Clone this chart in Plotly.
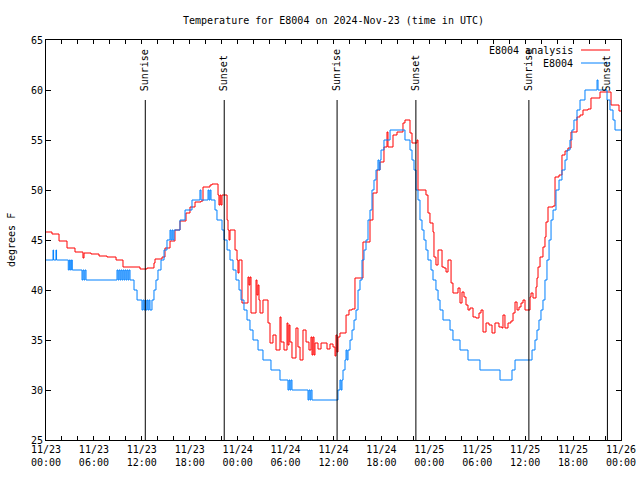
import pandas as pd
import plotly.graph_objects as go

# ---------------- data ----------------
START = "2024-11-23 00:00"
END = "2024-11-26 00:00"

# E8004 observations: hours since 11/23 00:00 UTC, degrees F
obs_hours = [0.00, 0.88, 0.95, 1.25, 1.32, 2.79, 2.92, 3.04, 3.17, 3.29,
             4.51, 4.63, 4.76, 4.88, 5.01, 5.13,
             8.89, 9.02, 9.14, 9.27, 9.39, 9.52, 9.64, 9.77, 9.89, 10.02, 10.14, 10.27, 10.39, 10.52,
             11.02, 11.40, 12.02, 12.15, 12.27, 12.40, 12.52, 12.65, 12.77, 12.90, 13.02,
             13.27, 13.52, 13.77, 14.02, 14.40, 14.78, 15.15, 15.53, 15.65, 15.78, 15.90, 16.03,
             16.78, 17.41, 18.28, 19.28, 19.41, 20.29, 20.41, 20.54, 20.66, 21.16, 21.41, 22.04,
             22.29, 22.67, 23.04, 23.42, 23.79, 24.17, 24.42, 24.79, 25.17, 25.54, 25.92, 26.55,
             27.17, 28.17, 29.30, 30.30, 30.43, 30.55, 30.68, 30.80, 32.81, 32.93, 33.06, 33.18,
             33.31, 36.56, 36.81, 36.94, 37.06, 37.19, 37.44, 37.57, 37.69, 37.82, 38.07, 38.32,
             38.57, 38.82, 39.07, 39.32, 39.57, 39.82, 40.07, 40.32, 40.57, 40.82, 41.07, 41.32,
             41.57, 41.70, 41.83, 41.95, 42.32, 43.08, 44.95, 45.58, 45.83, 46.08, 46.33, 46.58,
             46.83, 47.08, 47.33, 47.58, 47.83, 48.21, 48.46, 48.83, 49.09, 49.34, 49.71, 50.59,
             50.96, 51.84, 52.84, 54.34, 56.85, 58.35, 58.73, 60.86, 61.23, 61.48, 61.73, 61.98,
             62.23, 62.48, 62.73, 62.99, 63.24, 63.49, 63.86, 64.24, 64.61, 64.99, 65.24, 65.61,
             65.86, 66.11, 66.49, 66.87, 67.49, 69.00, 69.12, 70.25, 70.62, 71.00, 71.25, 72.00]
obs_temp = [43, 44, 43, 44, 43, 42, 43, 42, 43, 42,
            41, 42, 41, 42, 41, 41,
            42, 41, 42, 41, 42, 41, 42, 41, 42, 41, 42, 41, 42, 41,
            40, 39, 38, 39, 38, 39, 38, 39, 38, 39, 38,
            39, 40, 41, 42, 43, 44, 45, 46, 45, 46, 45, 46,
            47, 48, 49, 50, 49, 50, 49, 50, 49, 48, 47, 46,
            45, 44, 43, 42, 41, 40, 39, 38, 37, 36, 35, 34,
            33, 32, 31, 30, 31, 30, 31, 30, 29, 30, 29, 30,
            29, 30, 31, 30, 31, 32, 33, 34, 33, 34, 35, 36,
            37, 38, 40, 41, 43, 44, 45, 47, 48, 50, 51, 52,
            53, 52, 53, 54, 55, 56, 55, 54, 53, 52, 50, 49,
            47, 46, 45, 44, 43, 42, 41, 40, 39, 38, 37, 36,
            35, 34, 33, 32, 31, 32, 33, 34, 35, 36, 37, 38,
            39, 41, 43, 45, 47, 48, 50, 51, 52, 53, 54, 55,
            56, 57, 58, 59, 60, 61, 60, 59, 58, 57, 56, 56]

# E8004 analysis: hours since 11/23 00:00 UTC, degrees F
ana_hours = [0.00, 0.75, 1.63, 2.63, 3.63, 4.63, 4.76, 5.64, 6.64, 7.64, 8.77, 9.64, 11.77, 12.65,
             13.52, 13.65, 14.53, 14.90, 15.53, 16.15, 16.78, 17.53, 18.03, 18.66, 19.41, 19.66,
             20.54, 20.79, 21.54, 21.66, 21.79, 21.91, 22.04, 22.67, 22.79, 22.92, 23.04, 23.67,
             23.92, 24.04, 24.17, 24.54, 25.29, 25.42, 25.54, 25.67, 26.30, 26.42, 26.55, 26.67,
             26.80, 27.17, 27.80, 28.05, 28.42, 28.80, 29.30, 29.43, 29.80, 30.18, 30.30, 30.43,
             30.55, 30.80, 31.30, 31.55, 31.81, 32.18, 32.56, 32.93, 33.18, 33.31, 33.43, 33.56,
             33.68, 34.06, 34.44, 35.19, 35.56, 35.94, 36.19, 36.31, 36.44, 36.56, 36.81, 37.57,
             37.94, 38.32, 38.69, 39.69, 40.57, 40.94, 41.45, 41.82, 42.32, 42.70, 42.82, 43.45,
             43.95, 44.70, 44.95, 45.58, 45.83, 46.46, 46.58, 47.58, 47.83, 48.08, 48.46, 48.58,
             48.83, 49.09, 49.59, 49.84, 50.09, 50.34, 50.72, 50.96, 51.59, 51.84, 52.09, 52.34,
             52.59, 52.84, 53.09, 53.47, 53.84, 54.22, 54.47, 54.72, 55.10, 55.47, 55.85, 56.22,
             56.72, 57.10, 57.22, 57.47, 57.85, 58.22, 58.48, 58.73, 58.98, 59.23, 59.48, 59.73,
             59.98, 60.61, 60.73, 60.98, 61.36, 61.48, 61.61, 61.86, 62.23, 62.48, 62.61, 62.86,
             63.49, 63.74, 64.24, 64.61, 64.99, 65.36, 65.74, 66.49, 66.87, 67.24, 67.87, 68.24,
             69.37, 70.75, 71.75, 72.00]
ana_temp = [45.8, 45.6, 44.9, 44.2, 43.8, 43.2, 43.7, 43.6, 43.4, 43.3, 43.0, 42.3, 42.1, 42.2,
            42.7, 43.1, 43.3, 44.2, 44.9, 46.0, 46.9, 47.7, 48.3, 48.8, 48.9, 50.3,
            50.5, 50.6, 49.5, 48.5, 49.5, 48.5, 49.5, 47.0, 46.0, 45.0, 46.0, 44.0,
            43.0, 41.7, 43.0, 38.7, 41.3, 40.5, 41.3, 37.7, 41.0, 39.5, 40.5, 39.0,
            37.7, 39.0, 36.7, 34.7, 35.5, 34.0, 37.3, 34.8, 34.0, 36.7, 34.5, 36.5,
            34.8, 33.2, 36.2, 34.3, 33.0, 36.0, 34.8, 34.0, 35.3, 33.5, 35.3, 33.5,
            34.7, 34.1, 34.7, 34.1, 34.6, 34.3, 33.4, 35.5, 33.8, 35.3, 35.7, 37.5,
            38.0, 38.1, 41.2, 44.8, 47.0, 49.7, 52.0, 52.8, 54.3, 55.8, 54.3, 55.5,
            55.8, 56.7, 57.0, 55.7, 54.7, 55.0, 50.0, 49.5, 47.7, 46.7, 45.8, 43.3,
            42.5, 44.0, 42.3, 42.2, 41.8, 43.0, 40.7, 39.7, 40.2, 38.7, 39.8, 39.3,
            38.5, 38.0, 38.2, 37.3, 37.2, 37.7, 38.0, 35.8, 36.7, 36.5, 35.7, 36.7,
            36.3, 36.2, 37.5, 36.2, 36.7, 36.9, 37.7, 38.8, 38.0, 38.3, 38.7, 39.0,
            38.0, 39.3, 39.7, 39.2, 40.3, 41.2, 42.3, 43.3, 44.3, 45.3, 46.8, 48.3,
            48.4, 51.3, 51.5, 53.5, 53.9, 54.2, 55.8, 57.3, 57.5, 58.0, 58.1, 59.2,
            59.8, 58.5, 57.9, 57.9]

sun_events = ["2024-11-23 12:26", "2024-11-23 22:19", "2024-11-24 12:27",
              "2024-11-24 22:19", "2024-11-25 12:28", "2024-11-25 22:18"]
sun_labels = ["Sunrise", "Sunset", "Sunrise", "Sunset", "Sunrise", "Sunset"]

tick_times = ["2024-11-23 00:00", "2024-11-23 06:00", "2024-11-23 12:00", "2024-11-23 18:00",
              "2024-11-24 00:00", "2024-11-24 06:00", "2024-11-24 12:00", "2024-11-24 18:00",
              "2024-11-25 00:00", "2024-11-25 06:00", "2024-11-25 12:00", "2024-11-25 18:00",
              "2024-11-26 00:00"]
tick_text = ["11/23<br>00:00", "11/23<br>06:00", "11/23<br>12:00", "11/23<br>18:00",
             "11/24<br>00:00", "11/24<br>06:00", "11/24<br>12:00", "11/24<br>18:00",
             "11/25<br>00:00", "11/25<br>06:00", "11/25<br>12:00", "11/25<br>18:00",
             "11/26<br>00:00"]
y_ticks = [25, 30, 35, 40, 45, 50, 55, 60, 65]

series_names = ["E8004 analysis", "E8004"]
series_colors = ["#ff0000", "#0080ff"]

# ---------------- figure ----------------
base = pd.Timestamp(START)
obs_t = base + pd.to_timedelta(obs_hours, unit="h")
ana_t = base + pd.to_timedelta(ana_hours, unit="h")

FONT = "DejaVu Sans Mono"
W, H = 640, 480
ML, MT = 46, 40
PW, PH = 575, 400
MR, MB = W - ML - PW, H - MT - PH

fig = go.Figure()
fig.add_trace(go.Scatter(x=ana_t, y=ana_temp, mode="lines", line_shape="hv",
                         line=dict(color=series_colors[0], width=1),
                         name=series_names[0], showlegend=False))
fig.add_trace(go.Scatter(x=obs_t, y=obs_temp, mode="lines", line_shape="hv",
                         line=dict(color=series_colors[1], width=1),
                         name=series_names[1], showlegend=False))

def py(px):  # window pixel y -> paper y
    return (MT + PH - px) / PH

def pxx(px):  # window pixel x -> paper x
    return (px - ML) / PW

shapes = []
annotations = []
for t, lab in zip(sun_events, sun_labels):
    shapes.append(dict(type="line", xref="x", yref="paper", x0=t, x1=t,
                       y0=0, y1=py(100), line=dict(color="black", width=1)))
    annotations.append(dict(text=lab, xref="x", yref="paper", x=t, y=py(93),
                            xanchor="center", yanchor="bottom", textangle=-90,
                            showarrow=False, font=dict(family=FONT, size=10, color="black")))

# legend (gnuplot style: text on the left, line sample on the right)
for i, (nm, col) in enumerate(zip(series_names, series_colors)):
    yy = py(50 + 13 * i)
    annotations.append(dict(text=nm, xref="paper", yref="paper", x=pxx(575), y=yy,
                            xanchor="right", yanchor="middle", showarrow=False,
                            font=dict(family=FONT, size=10, color="black")))
    shapes.append(dict(type="line", xref="paper", yref="paper", x0=pxx(581), x1=pxx(610),
                       y0=yy, y1=yy, line=dict(color=col, width=1)))

# y-axis label
annotations.append(dict(text="degrees F", xref="paper", yref="paper", x=pxx(11), y=0.5,
                        xanchor="center", yanchor="middle", textangle=-90, showarrow=False,
                        font=dict(family=FONT, size=10, color="black")))

fig.update_layout(
    width=W, height=H,
    margin=dict(l=ML, r=MR, t=MT, b=MB, autoexpand=False),
    paper_bgcolor="white", plot_bgcolor="white",
    font=dict(family=FONT, size=10, color="black"),
    title=dict(text="Temperature for E8004 on 2024-Nov-23 (time in UTC)",
               x=0.5, xref="paper", y=1 - 20 / H, yref="container",
               xanchor="center", yanchor="middle",
               font=dict(family=FONT, size=10, color="black")),
    shapes=shapes, annotations=annotations,
    showlegend=False,
)
fig.update_xaxes(
    type="date", range=[START, END], tickmode="array", tickvals=tick_times, ticktext=tick_text,
    ticks="inside", ticklen=4, tickcolor="black", showline=True, linecolor="black",
    linewidth=1, mirror="ticks", showgrid=False, zeroline=False, ticklabeloverflow="allow",
    tickfont=dict(family=FONT, size=10, color="black"),
    minor=dict(dtick=2 * 3600 * 1000, tick0=START, ticks="inside", ticklen=4,
               tickcolor="black", showgrid=False),
)
fig.update_yaxes(
    range=[25, 65], tickmode="array", tickvals=y_ticks, ticks="inside", ticklen=5,
    tickcolor="black", showline=True, linecolor="black", linewidth=1, mirror="ticks",
    showgrid=False, zeroline=False, tickfont=dict(family=FONT, size=10, color="black"),
)

post = "document.body.style.margin='0';document.body.style.overflow='hidden';"
fig.write_html("out.html", config={"displayModeBar": False}, post_script=post)
